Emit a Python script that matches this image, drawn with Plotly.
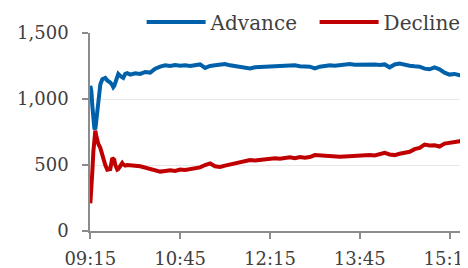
import pandas as pd
import plotly.graph_objects as go

# minutes after 09:15
minutes = [0, 1, 2, 3, 4, 5, 6, 7, 8, 10, 12, 14, 15, 17, 20, 22, 23, 24, 25, 27, 28, 30, 32, 33, 35, 37,
           40, 45, 50, 55, 60, 65, 70, 75, 80, 85, 90, 95, 100, 105, 110, 115, 120, 125, 130, 135,
           140, 145, 150, 155, 160, 165, 170, 175, 180, 185, 190, 195, 200, 205, 210, 215, 220, 225,
           230, 235, 240, 245, 250, 255, 260, 265, 270, 275, 280, 285, 290, 295, 300, 305, 310, 315,
           320, 325, 330, 335, 340, 345, 350, 355, 360, 365, 370, 374]

advance = [1100, 1060, 950, 820, 780, 770, 850, 930, 980, 1110, 1150, 1155, 1160, 1140, 1125, 1105, 1090,
           1100, 1120, 1165, 1190, 1175, 1165, 1160, 1190, 1195,
           1185, 1195, 1190, 1205, 1200, 1230, 1245, 1255, 1250, 1258, 1252, 1255, 1250, 1258, 1262,
           1235, 1250, 1255, 1260, 1265, 1255, 1250, 1245, 1240, 1232, 1240, 1242, 1240, 1245, 1242,
           1248, 1245, 1250, 1255, 1248, 1250, 1245, 1232, 1245, 1250, 1255, 1252, 1258, 1262, 1265,
           1260, 1262, 1265, 1260, 1262, 1258, 1262, 1240, 1262, 1268, 1258, 1252, 1248, 1245, 1230,
           1225, 1240, 1225, 1200, 1185, 1190, 1180, 1180]

decline = [210, 300, 450, 600, 720, 760, 720, 680, 660, 630, 570, 520, 500, 465, 470, 553, 545, 540, 500,
           465, 470, 490, 515, 505, 495, 500,
           500, 495, 490, 480, 470, 460, 450, 455, 460, 455, 465, 462, 470, 480, 482, 500, 512, 490,
           485, 495, 505, 515, 520, 530, 538, 535, 540, 545, 548, 552, 548, 555, 558, 552, 560, 555,
           560, 575, 572, 570, 565, 560, 562, 565, 568, 565, 570, 578, 575, 572, 580, 592, 580, 575,
           585, 595, 600, 620, 630, 655, 648, 650, 640, 662, 668, 672, 680, 695]

tick_labels = ["09:15", "10:45", "12:15", "13:45", "15:15"]

start = pd.Timestamp("2024-01-02 09:15")
times = [start + pd.Timedelta(minutes=m) for m in minutes]
tick_vals = [pd.Timestamp("2024-01-02 " + t) for t in tick_labels]

FONT = "DejaVu Serif"
TXT = "#404040"

fig = go.Figure()
fig.add_trace(go.Scatter(x=times, y=advance, mode="lines", name="Advance",
                         line=dict(color="#0061AA", width=4)))
fig.add_trace(go.Scatter(x=times, y=decline, mode="lines", name="Decline",
                         line=dict(color="#C00000", width=4)))

fig.update_layout(
    width=460, height=260,
    margin=dict(l=82, r=4, t=25, b=37, autoexpand=False),
    paper_bgcolor="white", plot_bgcolor="white",
    font=dict(family=FONT, size=18, color=TXT),
    showlegend=True,
    legend=dict(orientation="h", x=0.138, xanchor="left", y=1.0556, yanchor="middle",
                font=dict(family=FONT, size=20, color=TXT), itemwidth=59,
                entrywidth=99,
                bgcolor="rgba(0,0,0,0)", tracegroupgap=0),
)
fig.update_xaxes(
    type="date", automargin=False,
    range=[start - pd.Timedelta(seconds=20), start + pd.Timedelta(minutes=374.5)],
    tickmode="array", tickvals=tick_vals, ticktext=tick_labels,
    showgrid=False, showline=True, linecolor="#8c8c8c", linewidth=1.5,
    ticks="outside", ticklen=6, tickcolor="#8c8c8c", tickwidth=1.5,
    tickfont=dict(family=FONT, size=18, color=TXT),
    zeroline=False, ticklabeloverflow="allow", ticklabelstandoff=5,
)
fig.update_yaxes(
    automargin=False,
    range=[0, 1500], tickvals=[0, 500, 1000, 1500], tickformat=",",
    showgrid=True, gridcolor="#e8e8e8", gridwidth=1,
    showline=True, linecolor="#8c8c8c", linewidth=1.5,
    ticks="outside", ticklen=6, tickcolor="#8c8c8c", tickwidth=1.5,
    tickfont=dict(family=FONT, size=18, color=TXT),
    zeroline=False, ticklabelstandoff=10,
)

fig.write_html("out.html")
